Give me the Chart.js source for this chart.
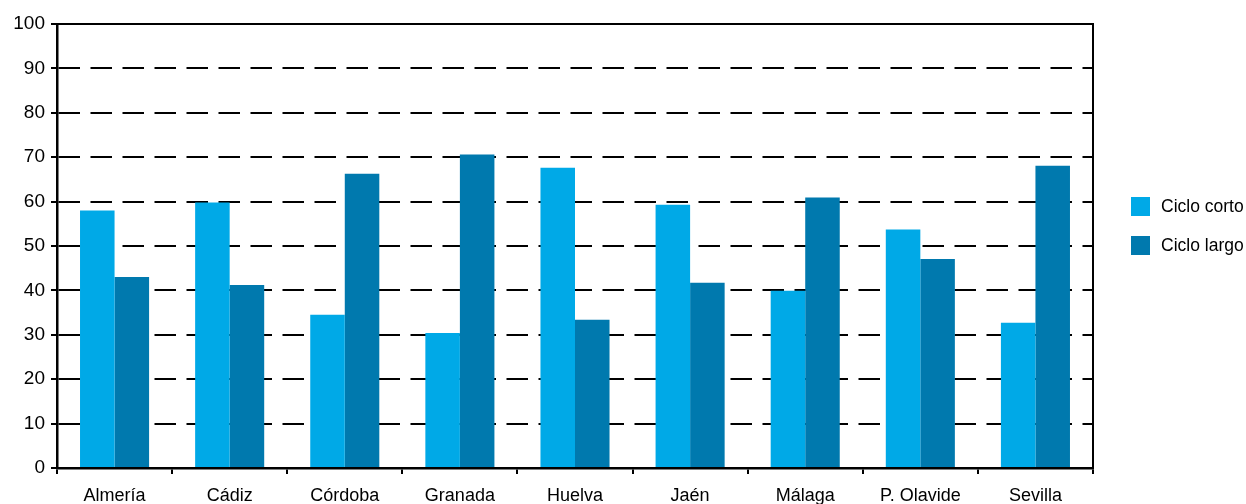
<!DOCTYPE html>
<html>
<head>
<meta charset="utf-8">
<script src="https://cdn.jsdelivr.net/npm/chart.js@4/dist/chart.umd.min.js"></script>
<style>
  html, body { margin: 0; padding: 0; background: #fff; }
  #wrap { position: relative; width: 1246px; height: 504px; overflow: hidden; }
  #legend { position: absolute; left: 1131px; top: 197px; font-family: "Liberation Sans", Arial, sans-serif; font-size: 17.5px; color: #000; white-space: nowrap; }
  .item { display: flex; align-items: center; height: 19px; margin-bottom: 20px; }
  .box { width: 19px; height: 19px; margin-right: 11px; flex: none; }
</style>
</head>
<body>
<div id="wrap">
  <canvas id="chart" width="1246" height="504"></canvas>
  <div id="legend"></div>
</div>
<script>
const categories = ["Almería", "Cádiz", "Córdoba", "Granada", "Huelva", "Jaén", "Málaga", "P. Olavide", "Sevilla"];
const cicloCorto = [58, 59.8, 34.5, 30.4, 67.6, 59.3, 39.9, 53.7, 32.7];
const cicloLargo = [43, 41.2, 66.3, 70.6, 33.4, 41.7, 60.9, 47.1, 68.1];
const seriesNames = ["Ciclo corto", "Ciclo largo"];
const colors = ["#00A9E7", "#0079AE"];
const yTicks = [0, 10, 20, 30, 40, 50, 60, 70, 80, 90, 100];

const family = '"Liberation Sans", Arial, sans-serif';

// top and right frame lines
const frame = {
  id: 'frame',
  afterDraw(chart) {
    const a = chart.chartArea, c = chart.ctx;
    c.save();
    c.strokeStyle = '#000';
    c.lineWidth = 2;
    c.beginPath();
    c.moveTo(a.left, a.top);
    c.lineTo(a.right, a.top);
    c.lineTo(a.right, a.bottom);
    c.stroke();
    c.restore();
  }
};

new Chart(document.getElementById('chart'), {
  type: 'bar',
  data: {
    labels: categories,
    datasets: [
      { label: seriesNames[0], data: cicloCorto, backgroundColor: colors[0] },
      { label: seriesNames[1], data: cicloLargo, backgroundColor: colors[1] }
    ]
  },
  options: {
    responsive: false,
    animation: false,
    categoryPercentage: 0.6,
    barPercentage: 1,
    layout: { padding: { top: 24, right: 153, left: 0, bottom: 0 } },
    plugins: { legend: { display: false }, tooltip: { enabled: false } },
    scales: {
      x: {
        grid: { offset: true, drawOnChartArea: false, color: '#000', lineWidth: 2, tickLength: 6 },
        border: { color: '#000', width: 2.5 },
        ticks: { color: '#000', font: { family: family, size: 18 }, padding: 11, maxRotation: 0 },
        afterFit(s) { s.height = 36; }
      },
      y: {
        min: 0, max: 100,
        afterBuildTicks(s) { s.ticks = yTicks.map(v => ({ value: v })); },
        grid: {
          color: ctx => (ctx.tick && (ctx.tick.value === 0 || ctx.tick.value === 100)) ? 'rgba(0,0,0,0)' : '#000',
          lineWidth: 2, tickLength: 6, tickColor: '#000'
        },
        border: { color: '#000', width: 2.5, dash: [21.5, 10.5] },
        ticks: { color: '#000', font: { family: family, size: 19 }, padding: 6 },
        afterFit(s) { s.width = 57; }
      }
    }
  },
  plugins: [frame]
});

const legend = document.getElementById('legend');
seriesNames.forEach((n, i) => {
  const d = document.createElement('div');
  d.className = 'item';
  d.innerHTML = '<div class="box" style="background:' + colors[i] + '"></div><span>' + n + '</span>';
  legend.appendChild(d);
});
</script>
</body>
</html>
